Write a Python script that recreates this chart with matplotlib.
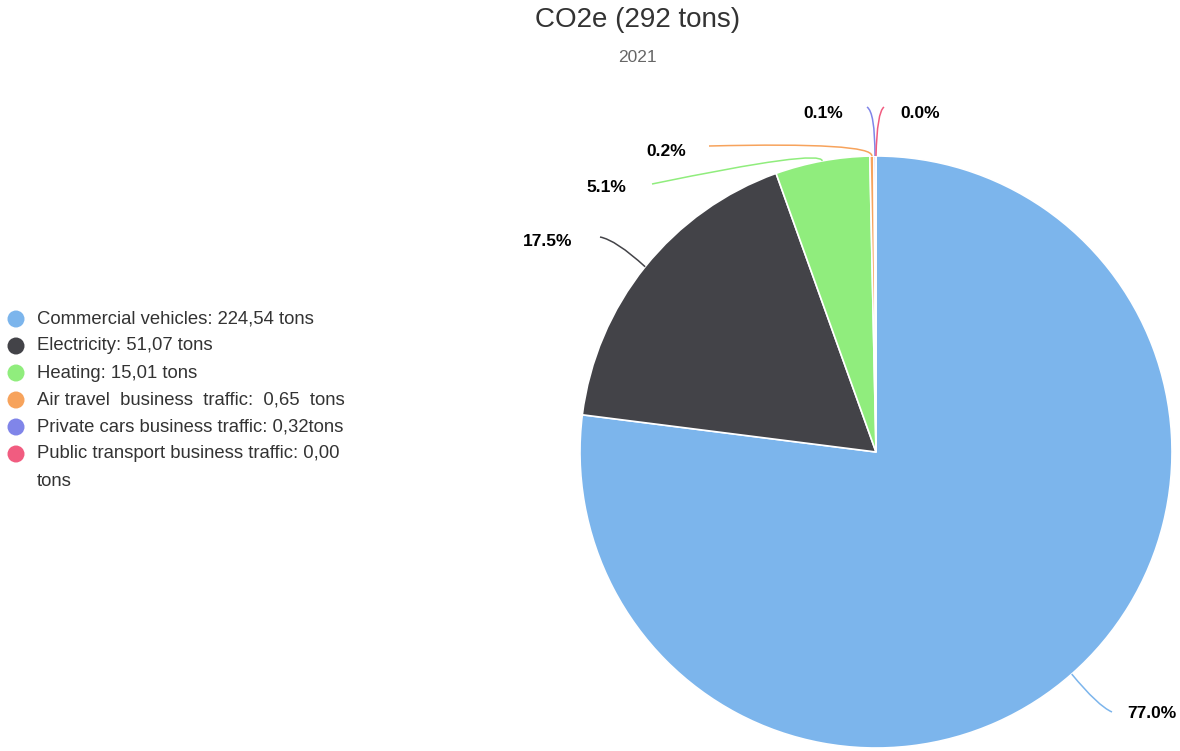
import numpy as np
import matplotlib.pyplot as plt
from matplotlib.path import Path
from matplotlib.patches import PathPatch, Circle

plt.rcParams['font.family'] = ['Liberation Sans', 'DejaVu Sans']

# data
categories = ['Commercial vehicles', 'Electricity', 'Heating',
              'Air travel business traffic', 'Private cars business traffic',
              'Public transport business traffic']
values = [224.54, 51.07, 15.01, 0.65, 0.32, 0.00]
legend_labels = ['Commercial vehicles: 224,54 tons',
                 'Electricity: 51,07 tons',
                 'Heating: 15,01 tons',
                 'Air travel  business  traffic:  0,65  tons',
                 'Private cars business traffic: 0,32tons',
                 'Public transport business traffic: 0,00\ntons']
title = 'CO2e (292 tons)'
subtitle = '2021'

colors = ['#7cb5ec', '#434348', '#90ed7d', '#f7a35c', '#8085e9', '#f15c80']

W, H = 1180, 751
fig = plt.figure(figsize=(W / 100, H / 100), dpi=100)
ax = fig.add_axes([0, 0, 1, 1])

def fy(y):
    # pixel row (from top) -> axis y
    return H - y

cx, cy, r = 876, fy(452), 296

vals = np.array(values)
ax.pie(vals, colors=colors, startangle=90, counterclock=False,
       center=(cx, cy), radius=r, frame=True,
       wedgeprops=dict(edgecolor='white', linewidth=1.2))
ax.set_xlim(0, W)
ax.set_ylim(0, H)
ax.set_aspect('auto')
ax.axis('off')

# label layout: text pos (px), alignment, elbow, connector end (px)
frac = vals / vals.sum()
mids = np.cumsum(frac) - frac / 2
layout = [
    dict(tx=1127, ty=713, ha='left', elbow=(1098, 706), end=(1112, 712)),
    dict(tx=572, ty=242, ha='right', elbow=(616, 240), end=(600, 237)),
    dict(tx=626, ty=188, ha='right', elbow=(821, 149), end=(652, 184)),
    dict(tx=686, ty=151, ha='right', elbow=(873, 142), end=(709, 146)),
    dict(tx=843, ty=113, ha='right', elbow=(875, 112), end=(867, 107)),
    dict(tx=900, ty=113, ha='left', elbow=(877, 112), end=(884, 107)),
]
for f, m, c, L in zip(frac, mids, colors, layout):
    ang = np.deg2rad(90 - m * 360)
    ax_ = cx + r * np.cos(ang)
    ay_ = cy + r * np.sin(ang)
    ex, ey = L['elbow']
    nx, ny = L['end']
    path = Path([(ax_, ay_), (ex, fy(ey)), (nx, fy(ny))],
                [Path.MOVETO, Path.CURVE3, Path.CURVE3])
    ax.add_patch(PathPatch(path, fc='none', ec=c, lw=1.1))
    ax.text(L['tx'], fy(L['ty']), f'{f * 100:.1f}%', ha=L['ha'], va='center',
            fontsize=12.5, fontweight='bold', color='black')

# legend
row = 27
for i, (lab, c) in enumerate(zip(legend_labels, colors)):
    y = 319 + i * row
    ax.add_patch(Circle((16, fy(y)), 8.5, color=c, lw=0))
    for k, line in enumerate(lab.split('\n')):
        ax.text(37, fy(y + k * row), line, ha='left', va='center',
                fontsize=13.3, color='#333333')

ax.text(638, fy(20), title, ha='center', va='center', fontsize=20, color='#333333')
ax.text(637, fy(57), subtitle, ha='center', va='center', fontsize=12.5, color='#666666')

fig.savefig('out.png', dpi=100)
